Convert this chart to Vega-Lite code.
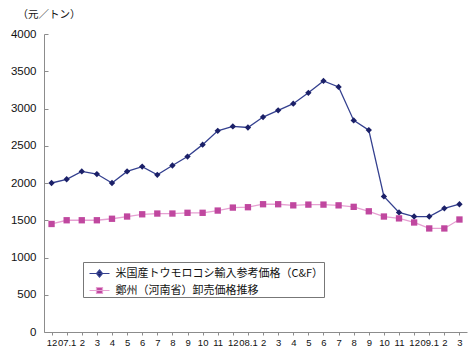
{
  "$schema": "https://vega.github.io/schema/vega-lite/v6.json",
  "width": 423,
  "height": 298,
  "autosize": "none",
  "padding": {"left": 44, "top": 34, "right": 8, "bottom": 22},
  "background": "white",
  "config": {
    "view": {"stroke": null},
    "axis": {"grid": false, "domainColor": "#8c8c8c", "tickColor": "#8c8c8c", "labelColor": "#111111", "labelFont": "Liberation Sans"}
  },
  "data": {
    "values": [
      {"p": "06.12", "us": 2000, "zz": 1450},
      {"p": "07.1", "us": 2050, "zz": 1500},
      {"p": "07.2", "us": 2155, "zz": 1500},
      {"p": "07.3", "us": 2120, "zz": 1500},
      {"p": "07.4", "us": 2000, "zz": 1520},
      {"p": "07.5", "us": 2155, "zz": 1550},
      {"p": "07.6", "us": 2220, "zz": 1580},
      {"p": "07.7", "us": 2110, "zz": 1590},
      {"p": "07.8", "us": 2235, "zz": 1590},
      {"p": "07.9", "us": 2355, "zz": 1600},
      {"p": "07.10", "us": 2515, "zz": 1600},
      {"p": "07.11", "us": 2700, "zz": 1630},
      {"p": "07.12", "us": 2760, "zz": 1670},
      {"p": "08.1", "us": 2745, "zz": 1675},
      {"p": "08.2", "us": 2885, "zz": 1715},
      {"p": "08.3", "us": 2975, "zz": 1715},
      {"p": "08.4", "us": 3065, "zz": 1700},
      {"p": "08.5", "us": 3210, "zz": 1710},
      {"p": "08.6", "us": 3370, "zz": 1710},
      {"p": "08.7", "us": 3290, "zz": 1700},
      {"p": "08.8", "us": 2840, "zz": 1680},
      {"p": "08.9", "us": 2710, "zz": 1620},
      {"p": "08.10", "us": 1820, "zz": 1550},
      {"p": "08.11", "us": 1605, "zz": 1525},
      {"p": "08.12", "us": 1550, "zz": 1470},
      {"p": "09.1", "us": 1550, "zz": 1390},
      {"p": "09.2", "us": 1660, "zz": 1390},
      {"p": "09.3", "us": 1715, "zz": 1510}
    ]
  },
  "transform": [{"fold": ["us", "zz"], "as": ["s", "v"]}],
  "encoding": {
    "x": {
      "field": "p", "type": "ordinal", "sort": null,
      "scale": {"type": "point", "padding": 0.5},
      "axis": {
        "title": null, "labelAngle": 0, "labelFontSize": 9.5, "labelPadding": 2,
        "tickSize": 3, "labelOverlap": false,
        "labelExpr": "(indexof(datum.value, '.1') == 2 && length(datum.value) == 4) ? datum.value : split(datum.value, '.')[1]"
      }
    },
    "y": {
      "field": "v", "type": "quantitative",
      "scale": {"domain": [0, 4000], "nice": false},
      "axis": {
        "title": "（元／トン）", "titleAngle": 0, "titleAlign": "left", "titleBaseline": "top",
        "titleX": -27, "titleY": -25, "titleFont": "Noto Sans CJK JP", "titleFontSize": 10.5, "titleFontWeight": "normal", "titleColor": "#111111",
        "values": [0, 500, 1000, 1500, 2000, 2500, 3000, 3500, 4000], "format": "d",
        "tickSize": -4, "labelPadding": 12, "labelFontSize": 11.5
      }
    }
  },
  "layer": [
    {
      "mark": {"type": "line", "strokeWidth": 1.3},
      "encoding": {
        "color": {
          "field": "s", "type": "nominal",
          "scale": {"domain": ["us", "zz"], "range": ["#34408f", "#e6a0d2"]},
          "legend": {
            "title": null, "orient": "none", "legendX": 39, "legendY": 228,
            "padding": 0.5, "rowPadding": 0, "fillColor": "white", "strokeColor": "#777777",
            "symbolSize": 400, "symbolStrokeWidth": 1.2, "labelOffset": 10, "labelLimit": 0,
            "symbolType": "M-0.5,0H1.5M0.5,-0.35L0.8,0L0.5,0.35L0.2,0Z",
            "labelFont": "Noto Sans CJK JP", "labelFontSize": 11, "labelColor": "#111111",
            "labelExpr": "datum.value == 'us' ? '米国産トウモロコシ輸入参考価格（C&F）' : '鄭州（河南省）卸売価格推移'",
            "encode": {
              "symbols": {
                "update": {
                  "shape": [
                    {"test": "datum.value == 'us'", "value": "M-0.5,0H1.5M0.5,-0.35L0.8,0L0.5,0.35L0.2,0Z"},
                    {"value": "M-0.5,0H1.5M0.2,-0.3H0.8V0.3H0.2Z"}
                  ],
                  "fill": [
                    {"test": "datum.value == 'us'", "value": "#1b2068"},
                    {"value": "#c0479f"}
                  ]
                }
              }
            }
          }
        }
      }
    },
    {
      "transform": [{"filter": "datum.s == 'us'"}],
      "mark": {"type": "point", "filled": true, "size": 40, "opacity": 1, "shape": "diamond", "color": "#1b2068"}
    },
    {
      "transform": [{"filter": "datum.s == 'zz'"}],
      "mark": {"type": "point", "filled": true, "size": 40, "opacity": 1, "shape": "square", "color": "#c0479f"}
    }
  ]
}
